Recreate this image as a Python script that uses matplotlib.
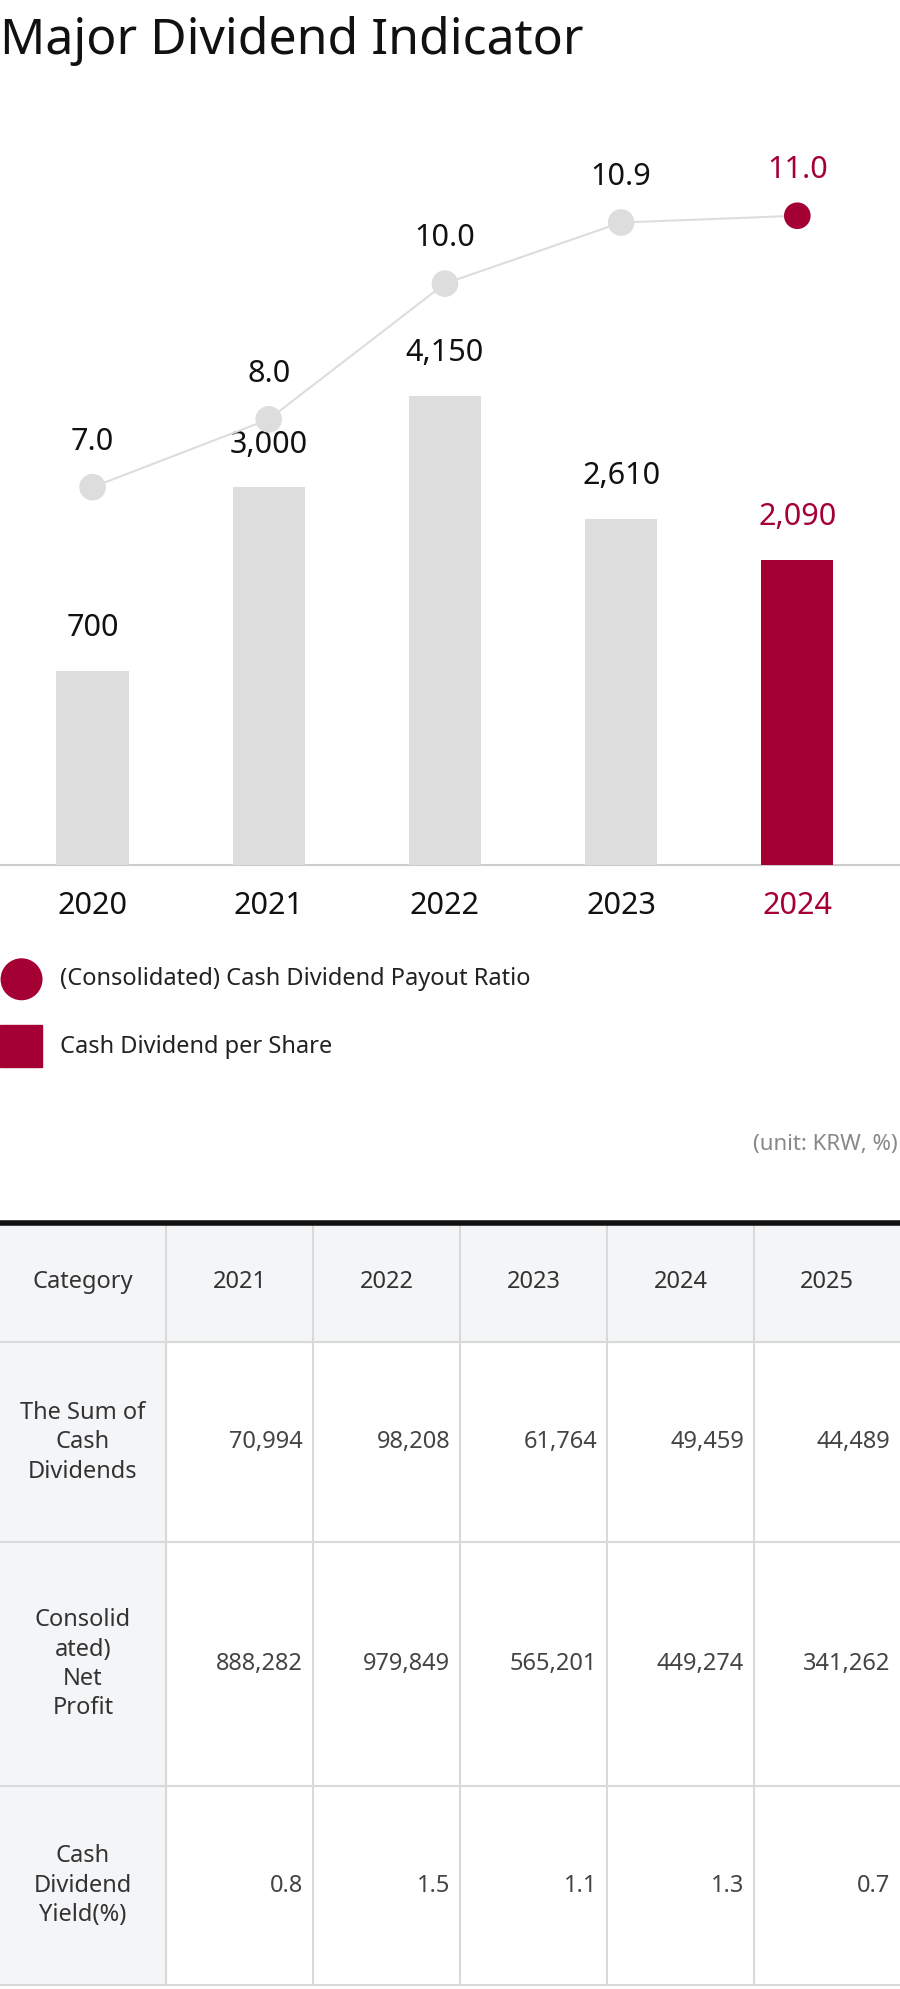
import numpy as np
import matplotlib.pyplot as plt
from matplotlib.patches import Rectangle, Circle

plt.rcParams['font.family'] = ['Noto Sans', 'DejaVu Sans']

years = ["2020", "2021", "2022", "2023", "2024"]
dps = [700, 3000, 4150, 2610, 2090]
ratio = [7.0, 8.0, 10.0, 10.9, 11.0]

tab_cols = ["Category", "2021", "2022", "2023", "2024", "2025"]
tab_rows = ["The Sum of\nCash\nDividends", "Consolid\nated)\nNet\nProfit", "Cash\nDividend\nYield(%)"]
tab_vals = [["70,994", "98,208", "61,764", "49,459", "44,489"],
            ["888,282", "979,849", "565,201", "449,274", "341,262"],
            ["0.8", "1.5", "1.1", "1.3", "0.7"]]

RED = "#a50034"
GREY = "#dddddd"
W, H = 710, 1568

fig = plt.figure(figsize=(9, 19.89), dpi=100)
bg = fig.add_axes([0, 0, 1, 1])
bg.set_xlim(0, W)
bg.set_ylim(H, 0)
bg.axis("off")

bg.text(0, 32, "Major Dividend Indicator", fontsize=36, fontweight="medium",
        va="center", ha="left", color="#111111")

# chart
ax = fig.add_axes([0, 1 - 682 / H, 1, 582 / H])
x = np.arange(len(years))
off = 1733
ax.set_xlim(-73 / 139, (W - 73) / 139)
ax.set_ylim(-off, 7520)
ax.axis("off")
cols = [GREY] * 4 + [RED]
ax.bar(x, np.array(dps) + off, bottom=-off, width=0.41, color=cols, zorder=2)
for i, v in enumerate(dps):
    ax.text(i, v + 350, f"{v:,}", ha="center", va="bottom", fontsize=22,
            color=RED if i == 4 else "#111111", fontweight="bold" if i == 4 else "medium")

ax2 = ax.twinx()
ax2.set_ylim(1.43, 12.31)
ax2.axis("off")
ax2.plot(x, ratio, color=GREY, lw=1.5, zorder=1)
ax2.scatter(x, ratio, s=330, color=[GREY] * 4 + [RED], zorder=3)
for i, v in enumerate(ratio):
    ax2.text(i, v + 0.45, f"{v:.1f}", ha="center", va="bottom", fontsize=22,
             color=RED if i == 4 else "#111111", fontweight="bold" if i == 4 else "medium")

bg.plot([0, W], [682, 682], color="#cccccc", lw=1.5)
for i, y in enumerate(years):
    bg.text(73 + 139 * i, 714, y, ha="center", va="center", fontsize=22,
            color=RED if i == 4 else "#111111", fontweight="bold" if i == 4 else "medium")

# legend
bg.add_patch(Circle((17, 772), 16, color=RED))
bg.text(47, 772, "(Consolidated) Cash Dividend Payout Ratio", fontsize=17, va="center", color="#222222")
bg.add_patch(Rectangle((0, 808), 33, 33, color=RED))
bg.text(47, 825, "Cash Dividend per Share", fontsize=17, va="center", color="#222222")
bg.text(708, 902, "(unit: KRW, %)", fontsize=16, ha="right", va="center", color="#888888")

# table
xs = [0, 131, 247, 363, 479, 595, 710]
ys = [964, 1058, 1216, 1408, 1565]
LBG = "#f4f5f7"
LINE = "#d9d9d9"
bg.add_patch(Rectangle((0, ys[0]), W, ys[1] - ys[0], color=LBG, zorder=0))
bg.add_patch(Rectangle((0, ys[1]), xs[1], ys[-1] - ys[1], color=LBG, zorder=0))
for y in ys[1:]:
    bg.plot([0, W], [y, y], color=LINE, lw=1.5)
for xv in xs[1:-1]:
    bg.plot([xv, xv], [ys[0], ys[-1]], color=LINE, lw=1.5)
bg.plot([0, W], [ys[0], ys[0]], color="#111111", lw=4)
for j, c in enumerate(tab_cols):
    bg.text((xs[j] + xs[j + 1]) / 2, (ys[0] + ys[1]) / 2, c, ha="center", va="center",
            fontsize=17, color="#333333")
for r, name in enumerate(tab_rows):
    yc = (ys[r + 1] + ys[r + 2]) / 2
    bg.text(xs[1] / 2, yc, name, ha="center", va="center", fontsize=17, color="#333333",
            linespacing=1.3)
    for j, v in enumerate(tab_vals[r]):
        bg.text(xs[j + 2] - 8, yc, v, ha="right", va="center", fontsize=17, color="#444444")

fig.savefig("out.png", dpi=100)
